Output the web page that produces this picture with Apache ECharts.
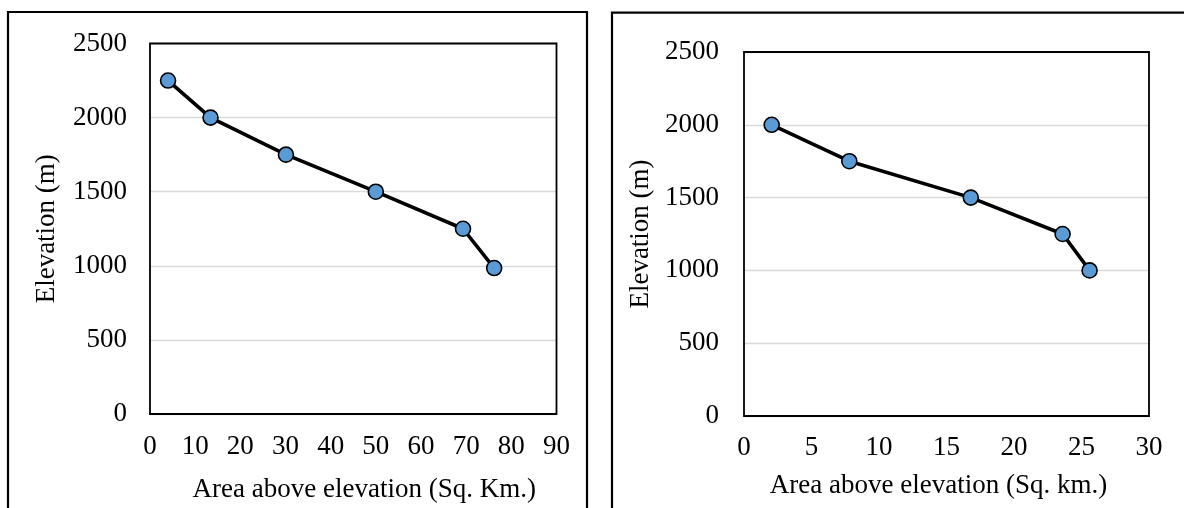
<!DOCTYPE html>
<html>
<head>
<meta charset="utf-8">
<script src="https://cdn.jsdelivr.net/npm/echarts@6/dist/echarts.min.js"></script>
<style>
html,body{margin:0;padding:0;background:#fff;}
#chart{width:1184px;height:508px;}
</style>
</head>
<body>
<div id="chart"></div>
<script>
// Left chart data
const leftArea = [4, 13.4, 30.1, 50, 69.3, 76.2];
const leftElev = [2250, 2000, 1750, 1500, 1250, 985];
// Right chart data
const rightArea = [2.05, 7.8, 16.8, 23.6, 25.6];
const rightElev = [2000, 1750, 1500, 1250, 1000];

const leftXTitle = 'Area above elevation (Sq. Km.)';
const rightXTitle = 'Area above elevation (Sq. km.)';
const yTitle = 'Elevation (m)';

const FONT = 'Liberation Serif';
const FS = 27;

function pairs(xs, ys){ return xs.map((x,i)=>[x, ys[i]]); }

const chart = echarts.init(document.getElementById('chart'), null, {renderer:'canvas'});

function xAxis(idx, max, interval, title, margin, gap, pad){
  return {
    type:'value', gridIndex:idx, min:0, max:max, interval:interval,
    name:title, nameLocation:'middle', nameGap:gap,
    nameTextStyle:{fontFamily:FONT, fontSize:FS, color:'#000', padding:pad},
    axisLine:{show:false}, axisTick:{show:false}, splitLine:{show:false},
    axisLabel:{fontFamily:FONT, fontSize:FS, color:'#000', margin:margin, formatter:v=>String(v)}
  };
}
function yAxis(idx, margin, gap){
  return {
    type:'value', gridIndex:idx, min:0, max:2500, interval:500,
    name:yTitle, nameLocation:'middle', nameGap:gap, nameRotate:90,
    nameTextStyle:{fontFamily:FONT, fontSize:FS, color:'#000'},
    axisLine:{show:false}, axisTick:{show:false},
    splitLine:{show:true, lineStyle:{color:'#D9D9D9', width:1.3}},
    axisLabel:{fontFamily:FONT, fontSize:FS, color:'#000', margin:margin, formatter:v=>String(v)}
  };
}
function series(idx, data){
  return {
    type:'line', xAxisIndex:idx, yAxisIndex:idx, data:data,
    symbol:'circle', symbolSize:15,
    lineStyle:{color:'#000', width:3.6},
    itemStyle:{color:'#5B9BD5', borderColor:'#000', borderWidth:1.6},
    animation:false, z:3
  };
}

chart.setOption({
  animation:false,
  backgroundColor:'#fff',
  grid:[
    {left:150, top:43.5, width:406.5, height:374, show:true, borderColor:'#000', borderWidth:1.8, backgroundColor:'transparent', z:2},
    {left:744, top:52, width:405, height:364, show:true, borderColor:'#000', borderWidth:1.8, backgroundColor:'transparent', z:2}
  ],
  xAxis:[
    xAxis(0, 90, 10, leftXTitle, 19, 62, [0,0,0,22]),
    xAxis(1, 30, 5, rightXTitle, 18, 56, [0,16,0,0])
  ],
  yAxis:[
    yAxis(0, 23, 90),
    yAxis(1, 25, 90)
  ],
  series:[
    series(0, pairs(leftArea, leftElev)),
    series(1, pairs(rightArea, rightElev))
  ],
  graphic:[
    {type:'rect', shape:{x:8, y:12, width:579, height:520}, style:{fill:'none', stroke:'#000', lineWidth:2.2}, z:1},
    {type:'rect', shape:{x:612, y:12.7, width:600, height:520}, style:{fill:'none', stroke:'#000', lineWidth:2.2}, z:1}
  ]
});
</script>
</body>
</html>
